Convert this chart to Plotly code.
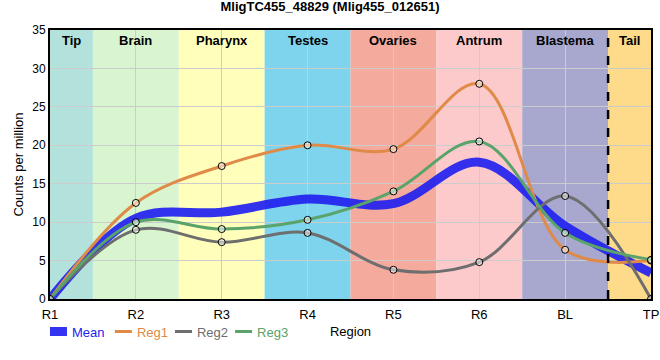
import plotly.graph_objects as go

categories = ["R1", "R2", "R3", "R4", "R5", "R6", "BL", "TP"]
reg1 = [0, 12.5, 17.3, 20.0, 19.5, 28.0, 6.4, 5.0]
reg2 = [0, 9.0, 7.4, 8.6, 3.8, 4.8, 13.4, 0]
reg3 = [0, 10.0, 9.1, 10.3, 14.0, 20.5, 8.6, 5.1]
mean = [0, 10.5, 11.3, 13.0, 12.4, 17.8, 9.5, 3.4]

region_names = ["Tip", "Brain", "Pharynx", "Testes", "Ovaries", "Antrum", "Blastema", "Tail"]
region_starts = [0, 0.5, 1.5, 2.5, 3.5, 4.5, 5.5, 6.5]
region_ends = [0.5, 1.5, 2.5, 3.5, 4.5, 5.5, 6.5, 7]
region_colors = ["#b3e2dd", "#d8f5d0", "#ffffbb", "#7ed4ec", "#f4aa9d", "#fccaca", "#a8a8ce", "#feda8b"]

c_mean = "#2222f0"
c1 = "#e08a48"
c2 = "#6e6e6e"
c3 = "#5aa36a"

fig = go.Figure()

fig.add_trace(go.Scatter(x=categories, y=mean, mode="lines", name="Mean", legend="legend",
                         line=dict(color=c_mean, width=9, shape="spline", smoothing=1.0), opacity=0.92))
series = [(reg1, c1, "Reg1", "legend2"), (reg2, c2, "Reg2", "legend3"), (reg3, c3, "Reg3", "legend4")]
for vals, col, nm, lg in series:
    fig.add_trace(go.Scatter(x=categories, y=vals, mode="lines+markers", name=nm, showlegend=False,
                             line=dict(color=col, width=3, shape="spline", smoothing=1.0),
                             marker=dict(size=7, color="rgba(255,255,255,0.5)", line=dict(color="black", width=1))))
# legend-only entries (line swatch without marker)
for vals, col, nm, lg in series:
    fig.add_trace(go.Scatter(x=[None], y=[None], mode="lines", name=nm, legend=lg,
                             line=dict(color=col, width=3)))

shapes = []
for s, e, c in zip(region_starts, region_ends, region_colors):
    shapes.append(dict(type="rect", xref="x", yref="paper", x0=s, x1=e, y0=0, y1=1,
                       fillcolor=c, line=dict(width=0), layer="below"))
shapes.append(dict(type="line", xref="x", yref="paper", x0=6.5, x1=6.5, y0=0, y1=1,
                   line=dict(color="black", width=2.5, dash="dash"), layer="above"))

annotations = []
for s, e, n in zip(region_starts, region_ends, region_names):
    annotations.append(dict(x=(s + e) / 2, y=1, xref="x", yref="paper", text=f"<b>{n}</b>",
                            showarrow=False, yanchor="top", yshift=-1,
                            font=dict(size=13, color="black", family="Arial")))

def leg(xpos, col):
    return dict(orientation="h", x=xpos, xanchor="left", y=-0.065, yanchor="top",
                font=dict(size=13, family="Arial", color=col), itemwidth=30,
                bgcolor="rgba(0,0,0,0)")

fig.update_layout(
    width=660, height=360,
    margin=dict(l=50, r=9, t=30, b=61),
    paper_bgcolor="white", plot_bgcolor="white",
    font=dict(family="Arial", size=12, color="black"),
    title=dict(text="<b>MligTC455_48829 (Mlig455_012651)</b>", x=0.5, xanchor="center", y=0.995, yanchor="top",
               font=dict(size=13, family="Arial")),
    shapes=shapes, annotations=annotations,
    showlegend=True,
    legend=leg(-0.03, c_mean),
    legend2=leg(0.078, c1),
    legend3=leg(0.178, c2),
    legend4=leg(0.278, c3),
)
fig.update_xaxes(type="category", range=[0, 7], showgrid=True, gridcolor="#cccccc", gridwidth=1,
                 showline=True, linecolor="black", linewidth=2, mirror=True,
                 ticks="outside", ticklen=2, tickcolor="rgba(0,0,0,0)",
                 tickfont=dict(size=13, family="Arial"), automargin=False,
                 title=dict(text="Region", font=dict(size=13), standoff=6), layer="below traces")
fig.update_yaxes(range=[0, 35], dtick=5, showgrid=True, gridcolor="#cccccc", gridwidth=1,
                 showline=True, linecolor="black", linewidth=2, mirror=True, ticks="", zeroline=False,
                 tickfont=dict(size=12, family="Arial"), automargin=False,
                 title=dict(text="Counts per million", font=dict(size=13), standoff=6), layer="below traces")

js = ("document.body.style.margin='0';"
      "document.querySelectorAll('.legendlines path').forEach(function(p){p.setAttribute('d','M18,0h17');});")
fig.write_html("out.html", post_script=js, config={"displayModeBar": False})
